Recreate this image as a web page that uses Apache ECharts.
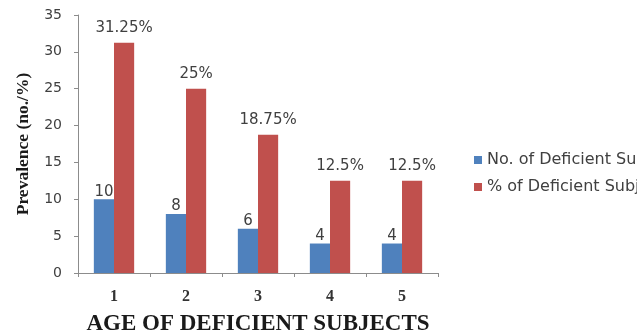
<!DOCTYPE html>
<html>
<head>
<meta charset="utf-8">
<script src="https://cdn.jsdelivr.net/npm/echarts@6/dist/echarts.min.js"></script>
<style>
  html, body { margin: 0; padding: 0; background: #fff; }
  #chart { width: 637px; height: 334px; }
</style>
</head>
<body>
<div id="chart"></div>
<script>
// Age groups of deficient subjects
const ageGroups = ['1', '2', '3', '4', '5'];
// Number of deficient subjects per age group
const deficientCount = [10, 8, 6, 4, 4];
// Percentage of deficient subjects per age group
const deficientPercent = [31.25, 25, 18.75, 12.5, 12.5];
// Value axis ticks
const yMin = 0, yMax = 35, yStep = 5;

const seriesNames = ['No. of Deficient Subjects', '% of Deficient Subjects'];
const labelFont = { fontFamily: 'DejaVu Sans', fontSize: 15, color: '#404040' };

const chart = echarts.init(document.getElementById('chart'), null, { renderer: 'canvas' });
chart.setOption({
  animation: false,
  backgroundColor: '#ffffff',
  grid: { left: 78, right: 199, top: 15, bottom: 61, containLabel: false, outerBoundsMode: 'none' },
  legend: {
    orient: 'vertical',
    left: 469,
    top: 147,
    itemWidth: 8,
    itemHeight: 8,
    itemGap: 11,
    icon: 'rect',
    textStyle: { fontFamily: 'DejaVu Sans', fontSize: 16, color: '#404040', padding: [0, 0, 0, 0] },
    data: seriesNames
  },
  xAxis: {
    type: 'category',
    data: ageGroups,
    name: 'AGE OF DEFICIENT SUBJECTS',
    nameLocation: 'middle',
    nameGap: 40,
    nameTextStyle: { fontFamily: 'Liberation Serif', fontWeight: 'bold', fontSize: 23, color: '#1a1a1a' },
    axisLine: { lineStyle: { color: '#8c8c8c', width: 1 } },
    axisTick: { show: true, length: 4, lineStyle: { color: '#8c8c8c' } },
    axisLabel: { margin: 16, fontFamily: 'Liberation Serif', fontWeight: 'bold', fontSize: 16, color: '#333' },
    splitLine: { show: false }
  },
  yAxis: {
    type: 'value',
    min: yMin,
    max: yMax,
    interval: yStep,
    name: 'Prevalence (no./%)',
    nameLocation: 'middle',
    nameGap: 46,
    nameTextStyle: { fontFamily: 'Liberation Serif', fontWeight: 'bold', fontSize: 17.5, color: '#1a1a1a' },
    axisLine: { show: true, lineStyle: { color: '#8c8c8c', width: 1 } },
    axisTick: { show: true, length: 4, lineStyle: { color: '#8c8c8c' } },
    axisLabel: { margin: 16, fontFamily: 'DejaVu Sans', fontSize: 14, color: '#404040' },
    splitLine: { show: false }
  },
  series: [
    {
      name: seriesNames[0],
      type: 'bar',
      data: deficientCount,
      barGap: '0%',
      barCategoryGap: '44%',
      itemStyle: { color: '#4f81bd' },
      label: { show: true, position: 'top', distance: 0, ...labelFont }
    },
    {
      name: seriesNames[1],
      type: 'bar',
      data: deficientPercent,
      barGap: '0%',
      barCategoryGap: '44%',
      itemStyle: { color: '#c0504d' },
      label: { show: true, position: 'top', distance: 7, formatter: '{c}%', ...labelFont }
    }
  ]
});
</script>
</body>
</html>
